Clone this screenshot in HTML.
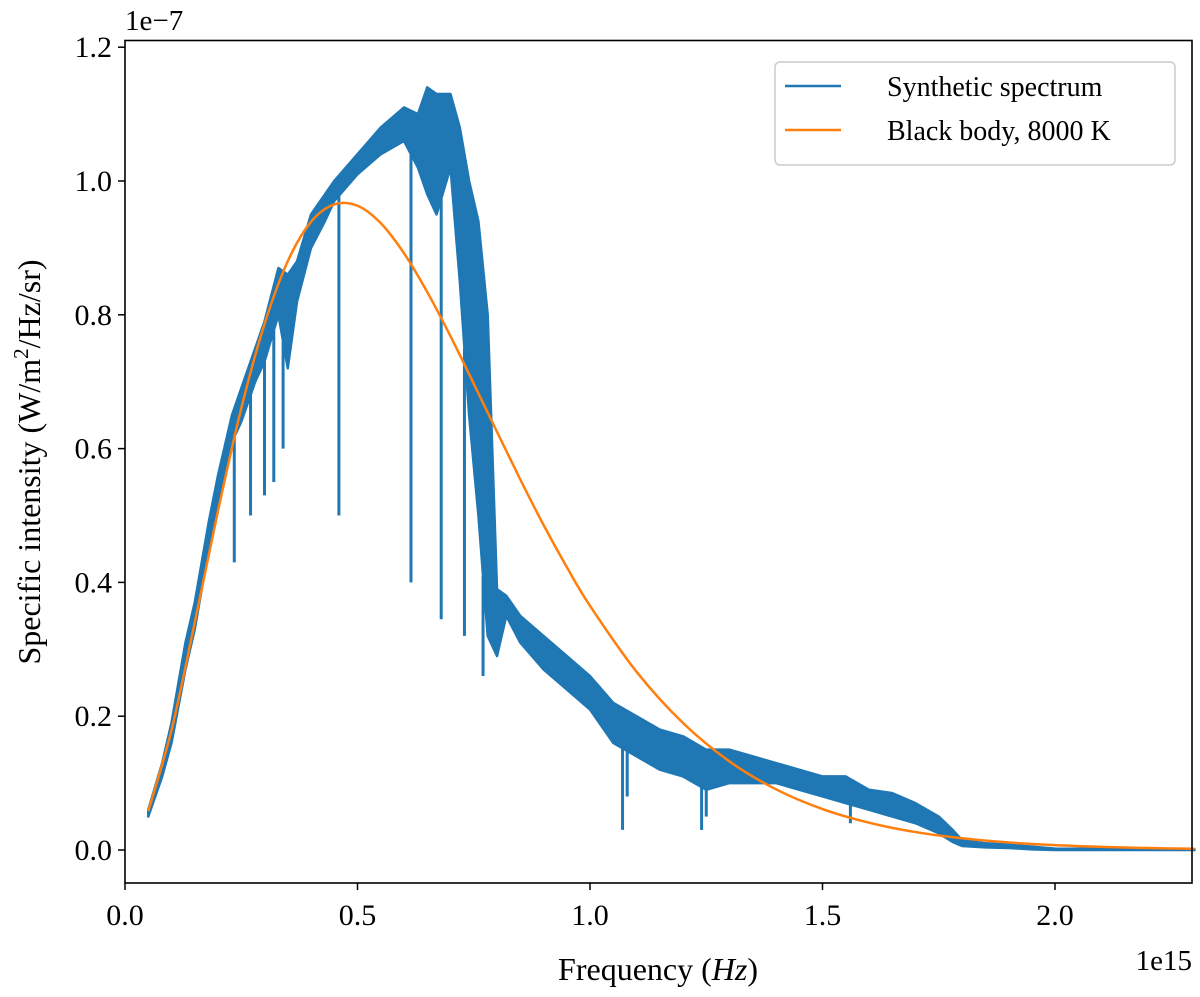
<!DOCTYPE html>
<html><head><meta charset="utf-8"><style>
body{margin:0;background:#fff;}
svg text{font-family:"Liberation Serif",serif;fill:#000;}
</style></head><body>
<svg id="chart" width="1200" height="992" xmlns="http://www.w3.org/2000/svg">
<g id="plot"></g>
<rect x="125" y="40.5" width="1067" height="842.5" fill="none" stroke="#000" stroke-width="1.6"/>
<g id="ticks"></g>
<text x="125" y="30" font-size="29">1e−7</text>
<text x="1192" y="970" font-size="29" text-anchor="end">1e15</text>
<text x="658" y="980" font-size="32" text-anchor="middle">Frequency (<tspan font-style="italic">Hz</tspan>)</text>
<text transform="translate(40,462) rotate(-90)" font-size="32" text-anchor="middle">Specific intensity (W/m<tspan font-size="21" dy="-12">2</tspan><tspan dy="12">/Hz/sr)</tspan></text>
<g>
<rect x="775" y="62" width="400" height="103" rx="5" fill="#fff" stroke="#ccc" stroke-width="1.5"/>
<line x1="785" y1="86" x2="841" y2="86" stroke="#1f77b4" stroke-width="2.5"/>
<text x="887" y="96" font-size="28">Synthetic spectrum</text>
<line x1="785" y1="130" x2="841" y2="130" stroke="#ff7f0e" stroke-width="2.5"/>
<text x="887" y="140" font-size="28">Black body, 8000 K</text>
</g>
</svg>
<script>
const bbFreq=[0.05,0.1,0.15,0.2,0.25,0.3,0.35,0.4,0.45,0.5,0.55,0.6,0.65,0.7,0.75,0.8,0.85,0.9,0.95,1.0,1.1,1.2,1.3,1.4,1.5,1.6,1.7,1.8,1.9,2.0,2.1,2.2,2.3];
const bbVal=[0.058,0.179,0.340,0.507,0.660,0.786,0.880,0.939,0.965,0.963,0.937,0.892,0.834,0.768,0.697,0.625,0.554,0.486,0.423,0.365,0.2665,0.1898,0.1324,0.0907,0.0612,0.0408,0.0268,0.0175,0.0113,0.0072,0.0046,0.0029,0.0018];
const spFreq=[0.05,0.08,0.1,0.13,0.15,0.18,0.2,0.23,0.25,0.28,0.3,0.33,0.35,0.37,0.4,0.43,0.45,0.5,0.55,0.6,0.63,0.65,0.67,0.7,0.72,0.74,0.76,0.78,0.8,0.82,0.85,0.9,0.95,1.0,1.05,1.1,1.15,1.2,1.25,1.3,1.35,1.4,1.45,1.5,1.55,1.6,1.65,1.7,1.75,1.78,1.8,1.85,1.9,1.95,2.0,2.3];
const spUpper=[0.06,0.13,0.19,0.31,0.37,0.49,0.56,0.65,0.69,0.75,0.79,0.87,0.86,0.88,0.95,0.98,1.0,1.04,1.08,1.11,1.1,1.14,1.13,1.13,1.08,1.0,0.94,0.8,0.39,0.38,0.35,0.32,0.29,0.26,0.22,0.2,0.18,0.17,0.15,0.15,0.14,0.13,0.12,0.11,0.11,0.09,0.085,0.07,0.05,0.03,0.015,0.01,0.008,0.005,0.002,0.001];
const spLower=[0.05,0.11,0.16,0.27,0.33,0.45,0.51,0.61,0.64,0.7,0.73,0.8,0.72,0.82,0.9,0.94,0.97,1.01,1.04,1.06,1.02,0.98,0.95,1.02,0.85,0.65,0.5,0.32,0.29,0.35,0.31,0.27,0.24,0.21,0.16,0.14,0.12,0.11,0.09,0.1,0.1,0.1,0.09,0.08,0.07,0.06,0.05,0.04,0.025,0.012,0.006,0.004,0.003,0.001,0.0,0.0];
const dipFreq=[0.235,0.27,0.3,0.32,0.34,0.46,0.615,0.68,0.73,0.77,1.07,1.08,1.24,1.25,1.56];
const dipVal=[0.43,0.5,0.53,0.55,0.6,0.5,0.40,0.345,0.32,0.26,0.03,0.08,0.03,0.05,0.04];
const xTicks=[0,0.5,1.0,1.5,2.0];
const xTickLabels=["0.0","0.5","1.0","1.5","2.0"];
const yTicks=[0,0.2,0.4,0.6,0.8,1.0,1.2];
const yTickLabels=["0.0","0.2","0.4","0.6","0.8","1.0","1.2"];

const NS="http://www.w3.org/2000/svg";
const X=v=>125+v*465;
const Y=v=>850-v*669;
const plot=document.getElementById('plot');
function interp(f,xs,ys){for(let i=0;i<xs.length-1;i++){if(f>=xs[i]&&f<=xs[i+1]){const t=(f-xs[i])/(xs[i+1]-xs[i]);return ys[i]+t*(ys[i+1]-ys[i]);}}return ys[ys.length-1];}

const band=document.createElementNS(NS,'polygon');


let pts=spFreq.map((f,i)=>X(f)+','+Y(spUpper[i]));
for(let i=spFreq.length-1;i>=0;i--)pts.push(X(spFreq[i])+','+Y(spLower[i]));
band.setAttribute('points',pts.join(' '));
band.setAttribute('fill','#1f77b4');band.setAttribute('stroke','#1f77b4');band.setAttribute('stroke-width','2.5');band.setAttribute('stroke-linejoin','round');
plot.appendChild(band);

dipFreq.forEach((f,i)=>{
 const l=document.createElementNS(NS,'line');
 
 
 const top=interp(f,spFreq,spLower);
 l.setAttribute('x1',X(f));l.setAttribute('x2',X(f));
 l.setAttribute('y1',Y(top));l.setAttribute('y2',Y(dipVal[i]));
 l.setAttribute('stroke','#1f77b4');l.setAttribute('stroke-width','3');
 plot.appendChild(l);
});

// smooth Catmull-Rom path through blackbody points
const P=bbFreq.map((f,i)=>[X(f),Y(bbVal[i])]);
let d='M'+P[0][0]+','+P[0][1];
for(let i=0;i<P.length-1;i++){
 const p0=P[i-1]||P[i],p1=P[i],p2=P[i+1],p3=P[i+2]||P[i+1];
 const c1=[p1[0]+(p2[0]-p0[0])/6,p1[1]+(p2[1]-p0[1])/6];
 const c2=[p2[0]-(p3[0]-p1[0])/6,p2[1]-(p3[1]-p1[1])/6];
 d+=' C'+c1.join(',')+' '+c2.join(',')+' '+p2.join(',');
}
const bb=document.createElementNS(NS,'path');


bb.setAttribute('d',d);
bb.setAttribute('fill','none');bb.setAttribute('stroke','#ff7f0e');bb.setAttribute('stroke-width','2.5');
plot.appendChild(bb);

const tg=document.getElementById('ticks');
xTicks.forEach((v,i)=>{
 const t=document.createElementNS(NS,'line');
 
 
 t.setAttribute('x1',X(v));t.setAttribute('x2',X(v));t.setAttribute('y1',883);t.setAttribute('y2',890);t.setAttribute('stroke','#000');t.setAttribute('stroke-width','1.5');
 tg.appendChild(t);
 const s=document.createElementNS(NS,'text');
 
 
 s.setAttribute('x',X(v));s.setAttribute('y',925);s.setAttribute('font-size','30');s.setAttribute('text-anchor','middle');
 s.textContent=xTickLabels[i];tg.appendChild(s);
});
yTicks.forEach((v,i)=>{
 const t=document.createElementNS(NS,'line');
 
 
 t.setAttribute('x1',118);t.setAttribute('x2',125);t.setAttribute('y1',Y(v));t.setAttribute('y2',Y(v));t.setAttribute('stroke','#000');t.setAttribute('stroke-width','1.5');
 tg.appendChild(t);
 const s=document.createElementNS(NS,'text');
 
 
 s.setAttribute('x',112);s.setAttribute('y',Y(v)+10);s.setAttribute('font-size','30');s.setAttribute('text-anchor','end');
 s.textContent=yTickLabels[i];tg.appendChild(s);
});
</script>
</body></html>
